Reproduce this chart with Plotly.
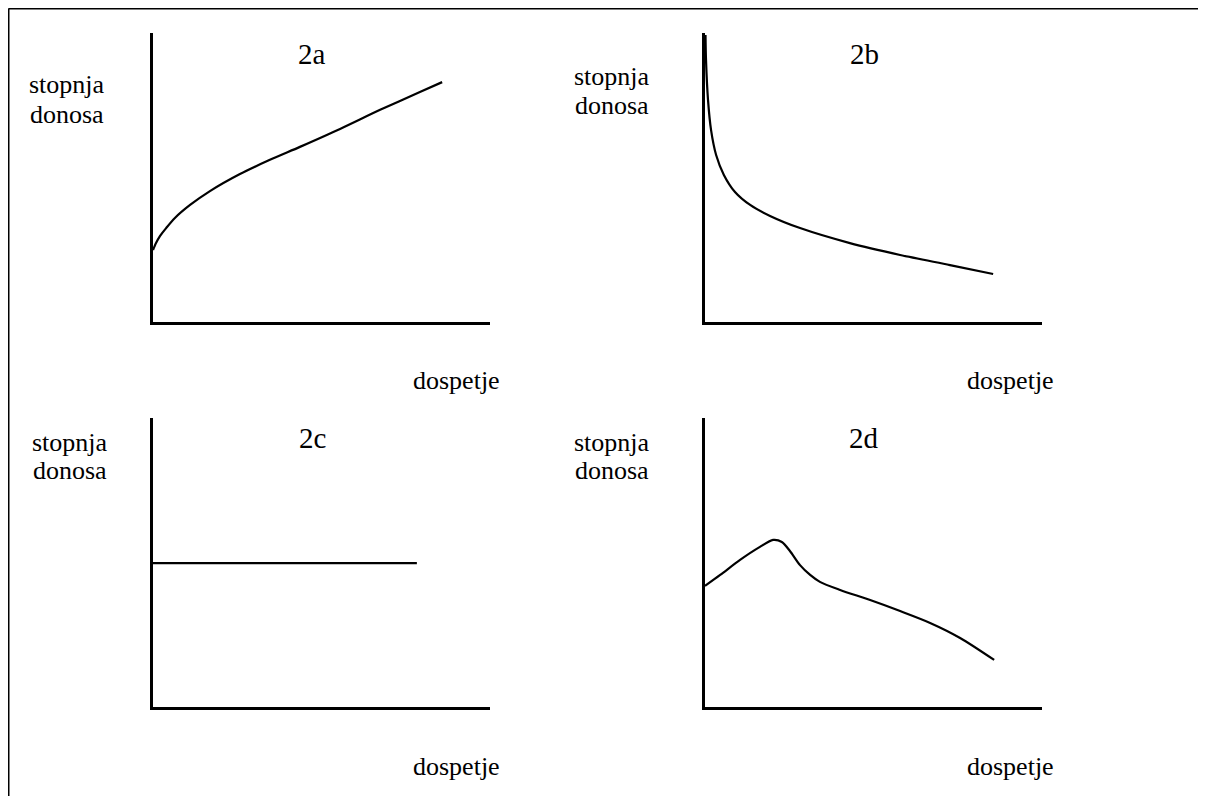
import plotly.graph_objects as go

# The browser page adds an 8px body margin, so the figure is drawn 8px in.
OFF = 8
W, H = 1206 - OFF, 796 - OFF

# Panel curves (maturity on x, yield on y; arbitrary units 0-100)
a_x = [0, 0.9, 2.1, 3.9, 6.5, 11.0, 16.9, 25.8, 34.7, 43.6, 55.5, 67.4, 79.2, 85.8]
a_y = [24.9, 27.3, 29.8, 32.5, 36.0, 40.5, 45.3, 51.2, 56.1, 60.6, 66.8, 73.4, 79.6, 83.0]

b_x = [0.15, 0.3, 0.9, 1.8, 3.3, 5.6, 8.9, 13.4, 19.3, 28.2, 43.0, 57.9, 72.7, 85.5]
b_y = [99.3, 90.7, 76.8, 66.4, 57.8, 50.9, 45.0, 40.5, 36.7, 32.5, 27.3, 23.2, 19.7, 16.6]

c_x = [0, 78.3]
c_y = [49.8, 49.8]

d_x = [0, 4.5, 10.4, 16.3, 20.2, 22.8, 25.2, 28.2, 31.2, 34.1, 40.1, 49.0, 57.9, 66.8, 75.7, 85.8]
d_y = [41.9, 45.7, 50.9, 55.4, 57.8, 57.1, 54.0, 49.1, 45.7, 43.3, 40.5, 37.0, 33.2, 29.1, 23.9, 16.3]

panel_titles = ["2a", "2b", "2c", "2d"]
y_label_1 = "stopnja"
y_label_2 = "donosa"
x_label = "dospetje"

FONT = "Liberation Serif"

def px_x(p):
    return (p - OFF) / W

def px_y(p):
    return 1 - (p - OFF) / H

# axis boxes in screen pixels: (left, right, top, bottom)
boxes = [(153, 490, 33, 322), (705, 1042, 33, 322), (153, 490, 418, 707), (705, 1042, 418, 707)]
series = [(a_x, a_y), (b_x, b_y), (c_x, c_y), (d_x, d_y)]

fig = go.Figure()
layout = dict(
    width=W, height=H, margin=dict(l=0, r=0, t=0, b=0),
    paper_bgcolor="white", plot_bgcolor="white", showlegend=False,
    font=dict(family=FONT, color="black"),
)
for i, ((l, r, t, b), (xs, ys)) in enumerate(zip(boxes, series)):
    n = "" if i == 0 else str(i + 1)
    fig.add_trace(go.Scatter(x=xs, y=ys, mode="lines",
                             line=dict(color="black", width=2.2, shape="spline", smoothing=0.8),
                             xaxis="x" + n, yaxis="y" + n, hoverinfo="skip"))
    common = dict(showgrid=False, zeroline=False, showticklabels=False, ticks="",
                  showline=True, linecolor="black", linewidth=2.5, fixedrange=True)
    layout["xaxis" + n] = dict(domain=[px_x(l), px_x(r)], range=[0, 100], anchor="y" + n, **common)
    layout["yaxis" + n] = dict(domain=[px_y(b), px_y(t)], range=[0, 100], anchor="x" + n, **common)
fig.update_layout(**layout)

annots = []
def txt(s, x, y, size=26):
    annots.append(dict(text=s, x=px_x(x), y=px_y(y), xref="paper", yref="paper", showarrow=False,
                       xanchor="center", yanchor="middle",
                       font=dict(family=FONT, size=size, color="black")))

title_pos = [(312, 54), (864, 54), (312, 438), (864, 438)]
ylab_pos = [(67, 85, 114), (612, 77, 106), (70, 442, 471), (612, 442, 471)]
xlab_pos = [(456, 380), (1010, 380), (456, 766), (1010, 766)]
for i in range(4):
    txt(panel_titles[i], *title_pos[i], size=29)
    txt(y_label_1, ylab_pos[i][0], ylab_pos[i][1])
    txt(y_label_2, ylab_pos[i][0], ylab_pos[i][2])
    txt(x_label, *xlab_pos[i])
fig.update_layout(annotations=annots)

# outer frame (top and left edges)
fig.add_shape(type="line", xref="paper", yref="paper", x0=px_x(8.5), y0=px_y(8.5), x1=1, y1=px_y(8.5),
              line=dict(color="black", width=2))
fig.add_shape(type="line", xref="paper", yref="paper", x0=px_x(8.5), y0=px_y(8.5), x1=px_x(8.5), y1=0,
              line=dict(color="black", width=2))

fig.write_html("out.html", config={"displayModeBar": False})
